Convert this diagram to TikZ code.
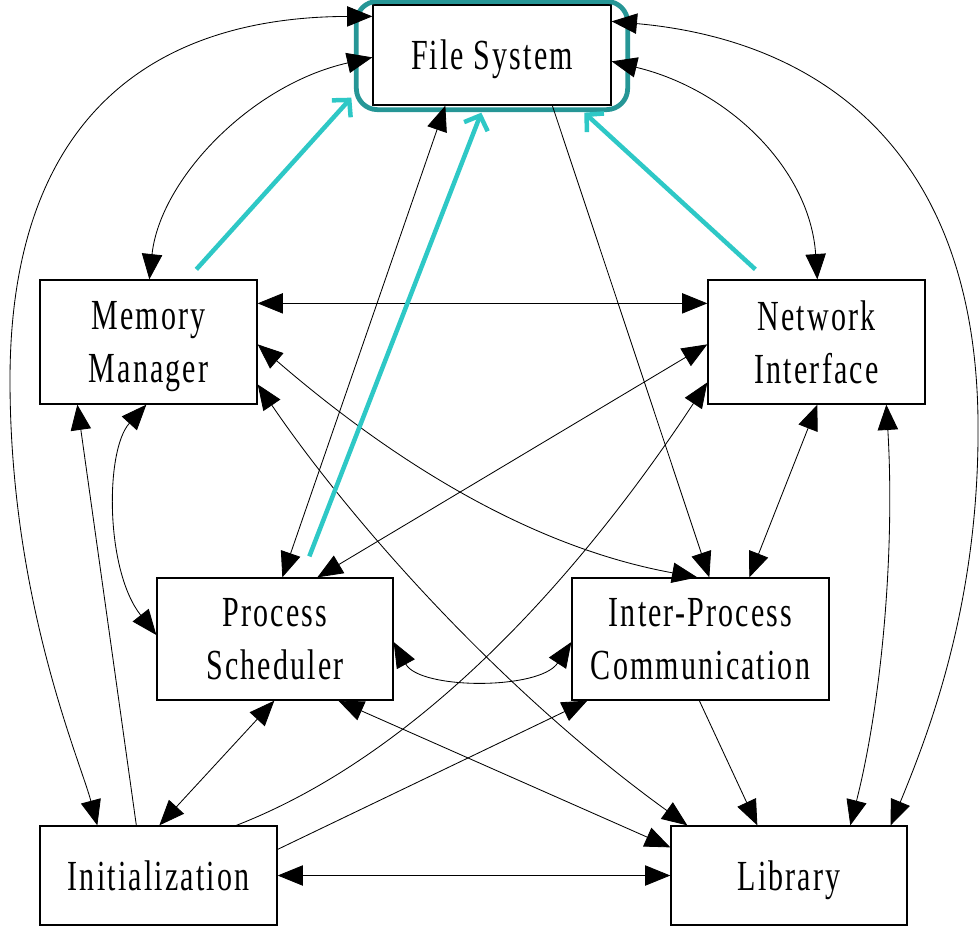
\documentclass[tikz,border=0pt]{standalone}
\usepackage{fontspec}
\setmainfont[FakeStretch=0.70,LetterSpace=5]{Liberation Serif}
\usepackage{tikz}
\usetikzlibrary{calc,arrows.meta}
\definecolor{hlteal}{RGB}{38,150,150}
\definecolor{arrowteal}{RGB}{46,200,198}

\begin{document}
\begin{tikzpicture}[x=0.025cm,y=-0.025cm,
    >={Triangle[length=18pt,width=14.5pt]},
    every node/.style={draw,line width=0.9pt,inner sep=0pt,align=center,text depth=0pt,
      font=\fontsize{30.5}{37.5}\selectfont},
    dep/.style={line width=0.6pt},
    hlbox/.style={draw=hlteal,line width=3.4pt,rounded corners=15pt},
    hlarrow/.style={draw=arrowteal,line width=3.2pt,
      -{Straight Barb[length=8.5pt,width=18pt]}}]
  \useasboundingbox (0,0) rectangle (980,930);
  % modules
  \node[minimum width=5.95cm,minimum height=2.5cm] (fs) at (492,55) {File System};
  \node[minimum width=5.425cm,minimum height=3.1cm] (mm) at (148.5,342) {Memory\\Manager};
  \node[minimum width=5.425cm,minimum height=3.1cm] (ni) at (816.5,342) {Network\\Interface};
  \node[minimum width=5.9cm,minimum height=3.05cm] (ps) at (275,639) {Process\\Scheduler};
  \node[minimum width=6.425cm,minimum height=3.05cm] (ipc) at (700.5,639) {Inter-Process\\Communication};
  \node[minimum width=5.925cm,minimum height=2.475cm] (init) at (158.5,875.5) {Initialization};
  \node[minimum width=5.9cm,minimum height=2.475cm] (lib) at (789,875.5) {Library};

  \draw[hlbox] ($(fs.north west)+(-16,-3)$) rectangle ($(fs.south east)+(16,4)$);

  % dependencies
  \draw[dep,<->] ($(fs.north west)+(0,12)$) .. controls (150,17) and (10,120) .. (10,380)
    .. controls (10,600) and (80,760) .. ($(init.north west)+(58,0)$);
  \draw[dep,<->] ($(fs.north west)+(0,53)$) .. controls (250,85) and (160,180) .. ($(mm.north west)+(110,0)$);
  \draw[dep,<->] ($(fs.north east)+(0,17)$) .. controls (820,40) and (975,150) .. (978,420)
    .. controls (980,600) and (930,730) .. ($(lib.north east)+(-17,0)$);
  \draw[dep,<->] ($(fs.north east)+(0,57)$) .. controls (730,90) and (810,170) .. ($(ni.north west)+(110,0)$);
  \draw[dep,<->] ($(fs.south west)+(73,0)$) -- ($(ps.north west)+(126,0)$);
  \draw[dep,->] ($(fs.south west)+(180,0)$) -- ($(ipc.north west)+(138,0)$);

  \draw[dep,<->] ($(mm.north east)+(0,24)$) -- ($(ni.north west)+(0,24)$);
  \draw[dep,<->] ($(mm.north east)+(0,65)$) .. controls (380,450) and (520,545) .. ($(ipc.north west)+(126,0)$);
  \draw[dep,<->] ($(mm.north east)+(0,105)$) .. controls (350,520) and (500,690) .. ($(lib.north west)+(17,0)$);
  \draw[dep,->] ($(init.north west)+(97,0)$) -- ($(mm.south west)+(38,0)$);
  \draw[dep,<->] ($(mm.south west)+(107,0)$) .. controls (105,450) and (105,570) .. ($(ps.west)+(0,-4)$);

  \draw[dep,<->] ($(ni.north west)+(0,65)$) -- ($(ps.north west)+(161,0)$);
  \draw[dep,->] ($(init.north west)+(197,0)$) .. controls (430,750) and (590,560) .. ($(ni.north west)+(0,103)$);
  \draw[dep,<->] ($(ni.south west)+(110,0)$) -- ($(ipc.north west)+(178,0)$);
  \draw[dep,<->] ($(ni.south west)+(179,0)$) .. controls (895,550) and (882,700) .. ($(lib.north west)+(180,0)$);

  \draw[dep,<->] ($(ps.east)+(0,3)$) .. controls (420,690) and (540,690) .. ($(ipc.west)+(0,3)$);
  \draw[dep,<->] ($(ps.south west)+(118,0)$) -- ($(init.north west)+(120,0)$);
  \draw[dep,<->] ($(ps.south west)+(182,0)$) -- ($(lib.north west)+(0,22)$);
  \draw[dep,->] ($(init.north east)+(0,24)$) -- ($(ipc.south west)+(16,0)$);
  \draw[dep,->] ($(ipc.south west)+(128,0)$) -- ($(lib.north west)+(87,0)$);
  \draw[dep,<->] (init.east) -- (lib.west);

  % highlighted uses of the file system
  \coordinate (mmuse) at ($(mm.north west)+(157,-10)$);
  \coordinate (psuse) at ($(ps.north west)+(153,-21)$);
  \coordinate (niuse) at ($(ni.north west)+(48,-10)$);
  \draw[hlarrow] (mmuse) -- ($(fs.south west)+(-21,-8)$);
  \draw[hlarrow] (psuse) -- ($(fs.south west)+(109,7)$);
  \draw[hlarrow] (niuse) -- ($(fs.south west)+(212,7)$);
\end{tikzpicture}
\end{document}
